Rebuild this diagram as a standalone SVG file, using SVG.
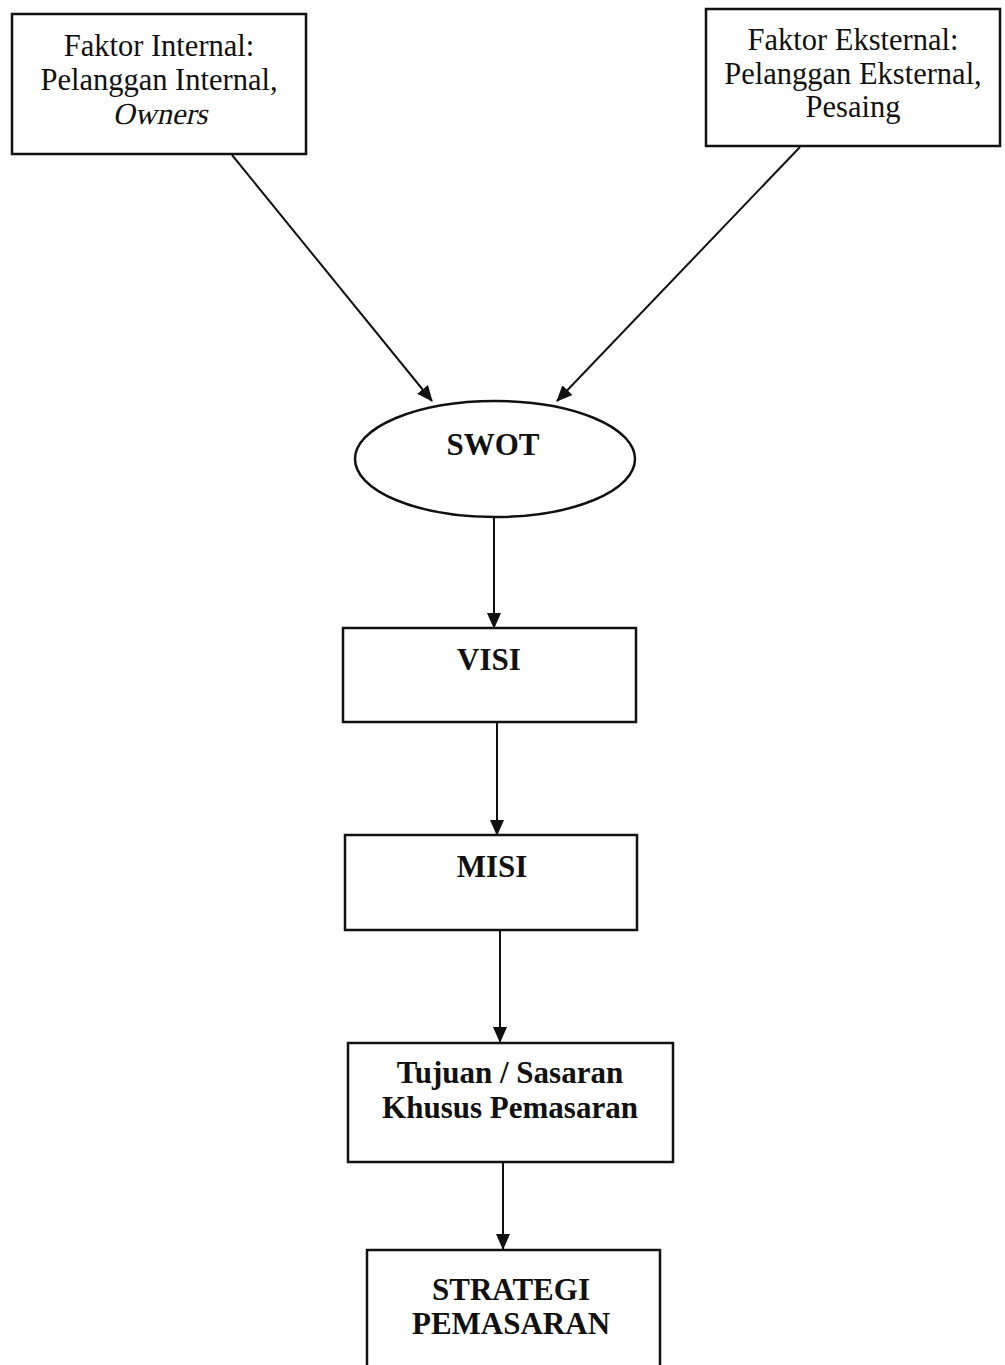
<svg xmlns="http://www.w3.org/2000/svg" width="1005" height="1365" viewBox="0 0 1005 1365">
<style>
.box{fill:#fff;stroke:#111;stroke-width:2.5}
.t{font-family:"Liberation Serif","Times New Roman",serif;font-size:30.5px;fill:#111;text-anchor:middle}
.b{font-weight:bold;font-size:31px}
.edge{stroke:#111;stroke-width:2;fill:none;marker-end:url(#ah)}
</style>
<defs>
<marker id="ah" markerWidth="16" markerHeight="14" refX="15" refY="7" orient="auto" markerUnits="userSpaceOnUse">
<path d="M0,0 L16,7 L0,14 Z" fill="#111"/>
</marker>
</defs>
<rect width="1005" height="1365" fill="#fff"/>
<g id="connectors">
<line class="edge" x1="232" y1="155" x2="432" y2="401"/>
<line class="edge" x1="800" y1="147" x2="557" y2="401"/>
<line class="edge" x1="494" y1="518" x2="494" y2="628"/>
<line class="edge" x1="497" y1="723" x2="497" y2="835"/>
<line class="edge" x1="500" y1="931" x2="500" y2="1042"/>
<line class="edge" x1="503" y1="1163" x2="503" y2="1249"/>
</g>
<g id="faktor-internal">
<rect class="box" x="12" y="14" width="294" height="140"/>
<text class="t" x="159" y="56">Faktor Internal:</text>
<text class="t" x="159" y="90">Pelanggan Internal,</text>
<text class="t" transform="translate(160,124) skewX(-13)" x="0" y="0">Owners</text>
</g>
<g id="faktor-eksternal">
<rect class="box" x="706" y="9" width="294" height="137"/>
<text class="t" x="853" y="50">Faktor Eksternal:</text>
<text class="t" x="853" y="84">Pelanggan Eksternal,</text>
<text class="t" x="853" y="117">Pesaing</text>
</g>
<g id="swot">
<ellipse class="box" cx="495" cy="459" rx="140" ry="58"/>
<text class="t b" x="493" y="455">SWOT</text>
</g>
<g id="visi">
<rect class="box" x="343" y="628" width="293" height="94"/>
<text class="t b" x="489" y="670">VISI</text>
</g>
<g id="misi">
<rect class="box" x="345" y="835" width="292" height="95"/>
<text class="t b" x="492" y="877">MISI</text>
</g>
<g id="tujuan">
<rect class="box" x="348" y="1043" width="325" height="119"/>
<text class="t b" x="510" y="1083">Tujuan / Sasaran</text>
<text class="t b" x="510" y="1118">Khusus Pemasaran</text>
</g>
<g id="strategi">
<rect class="box" x="367" y="1250" width="293" height="140"/>
<text class="t b" x="511" y="1300">STRATEGI</text>
<text class="t b" x="511" y="1334">PEMASARAN</text>
</g>
</svg>
